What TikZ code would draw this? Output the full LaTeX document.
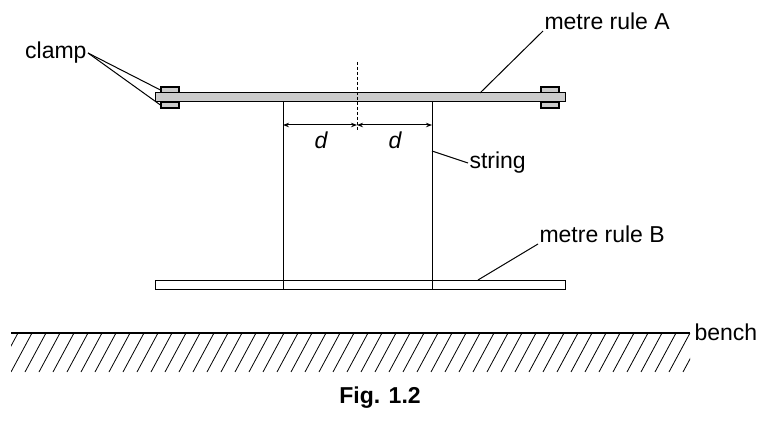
\documentclass[tikz,border=0pt]{standalone}
\usepackage{fontspec}
\setmainfont{Liberation Sans}
\usetikzlibrary{arrows.meta}
\tikzset{lbl/.style={font=\fontsize{23}{26}\selectfont,inner sep=1pt}}
\tikzset{clampbox/.style={draw,fill=gray!40,line width=1.2pt}}

\begin{document}
\begin{tikzpicture}[x=1pt,y=-1pt,line width=1pt]
    \useasboundingbox (0,0) rectangle (763,422);
    % bench
    \begin{scope}
    \clip (11,333) rectangle (690,372);
    \foreach \i in {0,...,52} {
        \draw[line width=0.8pt] (11+\i*14-14,372) -- (11+\i*14+7,333);
    }
    \end{scope}
    \draw[line width=1.5pt] (11,333) coordinate (b1) -- (690,333) coordinate (b2);
    \node[lbl,anchor=west] (bench) at (693,332) {bench};
    % metre rule A and clamps
    \node[clampbox,minimum width=18pt,minimum height=6pt,inner sep=0pt] (c1) at (170,90) {};
    \node[clampbox,minimum width=18pt,minimum height=6pt,inner sep=0pt] (c2) at (170,105) {};
    \node[clampbox,minimum width=18pt,minimum height=6pt,inner sep=0pt] (c3) at (550,90) {};
    \node[clampbox,minimum width=18pt,minimum height=6pt,inner sep=0pt] (c4) at (550,105) {};
    \node[draw,fill=gray!40,minimum width=410pt,minimum height=9pt,inner sep=0pt] (A) at (360,97.5) {};
    % metre rule B
    \node[draw,fill=white,minimum width=410pt,minimum height=9pt,inner sep=0pt] (B) at (360,284.5) {};
    % strings
    \coordinate (s1) at (283,102);
    \coordinate (s2) at (432,102);
    \coordinate (t1) at (283,289);
    \coordinate (t2) at (432,289);
    \draw (s1) -- (t1);
    \draw (s2) -- (t2);
    % centre line
    \coordinate (m1) at (357,62);
    \coordinate (m2) at (357,130);
    \draw[dash pattern=on 3pt off 2pt] (m1) -- (m2);
    \coordinate (p1) at (283,125);
    \coordinate (p2) at (357,125);
    \coordinate (p3) at (432,125);
    \draw[{Stealth[length=6pt]}-{Stealth[length=6pt]}] (p1) -- (p2);
    \draw[{Stealth[length=6pt]}-{Stealth[length=6pt]}] (p2) -- (p3);
    \node[lbl] (d1) at (321,140) {\itshape d};
    \node[lbl] (d2) at (395,140) {\itshape d};
    % labels
    \node[lbl,anchor=south west] (lA) at (543,31) {metre rule A};
    \draw (lA.south west) -- (480,93);
    \node[lbl,anchor=west] (ls) at (468,163) {string};
    \draw (ls.west) -- (432,151);
    \node[lbl,anchor=south west] (lB) at (538,244) {metre rule B};
    \draw (lB.south west) -- (478,280);
    \node[lbl,anchor=east] (lc) at (88,53) {clamp};
    \draw (lc.east) -- (c1.west);
    \draw (lc.east) -- (c2.west);
    \node[lbl,font=\fontsize{23}{26}\selectfont\bfseries] (fig) at (380,398) {Fig. 1.2};
\end{tikzpicture}
\end{document}
